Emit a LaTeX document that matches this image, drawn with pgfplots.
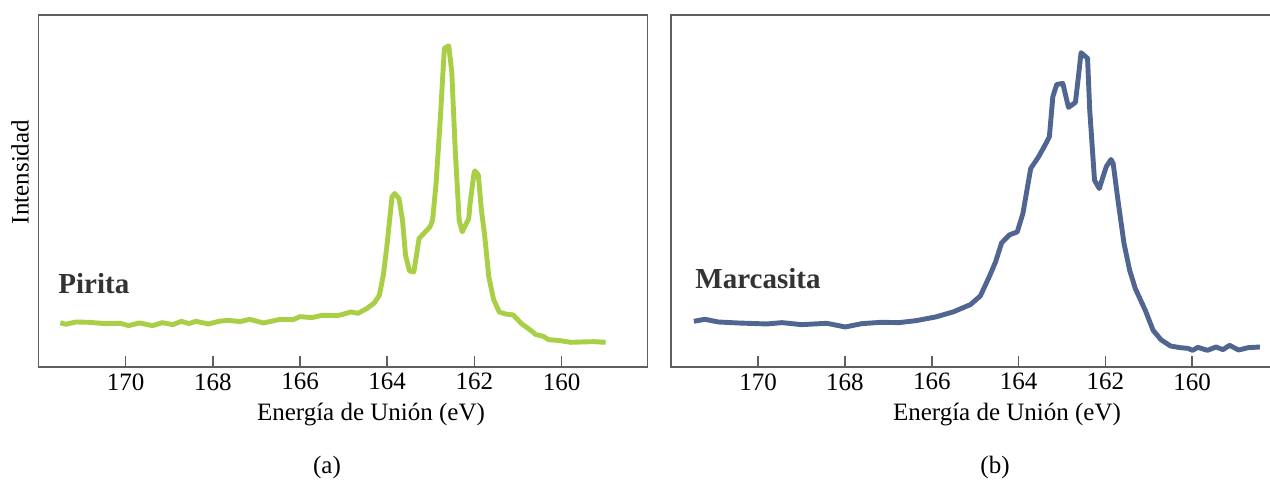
\documentclass[border=0pt]{standalone}
\usepackage{fontspec}
\setmainfont{Liberation Serif}
\usepackage{pgfplots}
\pgfplotsset{compat=1.18}
\definecolor{pyr}{RGB}{168,207,69}
\definecolor{mar}{RGB}{80,101,143}
\definecolor{axg}{RGB}{95,95,95}
\definecolor{lab}{RGB}{51,51,51}
\begin{document}
\fontsize{12.5}{15}\selectfont
\begin{tikzpicture}
\path[use as bounding box] (0pt,0pt) rectangle (635pt,-239.5pt);
\pgfplotsset{myax/.style={
  scale only axis, height=176pt, x dir=reverse, ymin=0, ymax=1055,
  xtick={160,162,...,170}, ytick=\empty, xtick pos=left, tick align=inside,
  major tick length=5.5pt,
  axis line style={axg, line width=0.75pt},
  every tick/.style={axg, line width=0.75pt},
  /pgf/number format/assume math mode=true,
  xticklabel style={font=\fontsize{12.5}{15}\selectfont, inner sep=0pt, anchor=north, yshift=-3pt},
  anchor=south west,
}}
\begin{axis}[myax, at={(19.25pt,-183.5pt)}, width=304.5pt, xmin=158.03, xmax=172]
\addplot[pyr, line width=2.45pt, line join=round] coordinates {
(171.50,133) (171.38,128) (171.14,135) (170.85,134) (170.46,130) (170.13,131)
(169.93,124) (169.69,132) (169.38,124) (169.16,133) (168.92,127) (168.72,137)
(168.55,130) (168.39,137) (168.10,129) (167.86,137) (167.66,140) (167.37,136)
(167.16,143) (166.84,132) (166.45,143) (166.16,142) (166.00,151) (165.73,148)
(165.49,155) (165.15,154) (165.01,158) (164.84,165) (164.67,161) (164.47,175)
(164.30,192) (164.18,215) (164.09,275) (164.01,360) (163.89,510) (163.83,520)
(163.73,505) (163.65,440) (163.58,335) (163.49,288) (163.39,285) (163.27,385)
(163.02,420) (162.96,440) (162.88,550) (162.78,750) (162.69,955) (162.59,963)
(162.52,885) (162.44,650) (162.35,440) (162.28,405) (162.13,445) (162.10,490)
(162.01,580) (161.99,588) (161.91,575) (161.84,470) (161.77,400) (161.67,270)
(161.56,202) (161.43,165) (161.29,159) (161.11,156) (160.92,130) (160.71,110)
(160.59,97) (160.42,92) (160.30,82) (160.03,79) (159.79,74) (159.55,75)
(159.26,76) (158.99,74)
};
\end{axis}
\begin{axis}[myax, at={(335.45pt,-183.5pt)}, width=301pt, xmin=158.14, xmax=172.01]
\addplot[mar, line width=2.45pt, line join=round] coordinates {
(171.48,137) (171.23,143) (170.92,135) (170.47,132) (169.80,129) (169.45,133)
(169.00,127) (168.42,131) (167.99,120) (167.61,130) (167.16,134) (166.76,133)
(166.36,139) (165.91,150) (165.51,165) (165.11,187) (164.88,213) (164.66,275)
(164.53,315) (164.39,372) (164.21,396) (164.03,405) (163.90,460) (163.72,595)
(163.54,630) (163.39,665) (163.29,690) (163.21,810) (163.12,847) (162.98,850)
(162.85,778) (162.69,793) (162.63,860) (162.56,942) (162.41,925) (162.36,770)
(162.25,560) (162.14,535) (161.98,600) (161.87,622) (161.82,610) (161.71,500)
(161.57,370) (161.44,290) (161.31,235) (161.08,170) (160.90,110) (160.72,82)
(160.50,63) (160.28,58) (160.10,56) (159.99,50) (159.87,59) (159.65,50)
(159.45,60) (159.29,52) (159.14,65) (158.93,51) (158.71,58) (158.44,60)
};
\end{axis}
\node[anchor=base] at (185.5pt,-210pt) {Energía de Unión (eV)};
\node[anchor=base] at (503.5pt,-210pt) {Energía de Unión (eV)};
\node[anchor=base] at (163.5pt,-236.5pt) {(a)};
\node[anchor=base] at (497.5pt,-236.5pt) {(b)};
\node[rotate=90, anchor=center] at (10pt,-86pt) {Intensidad};
\node[anchor=base west, inner sep=0pt, text=lab, font=\fontsize{14.5}{17}\selectfont\bfseries] at (29pt,-146.5pt) {Pirita};
\node[anchor=base west, inner sep=0pt, text=lab, font=\fontsize{14.5}{17}\selectfont\bfseries] at (347.5pt,-144pt) {Marcasita};
\end{tikzpicture}
\end{document}
